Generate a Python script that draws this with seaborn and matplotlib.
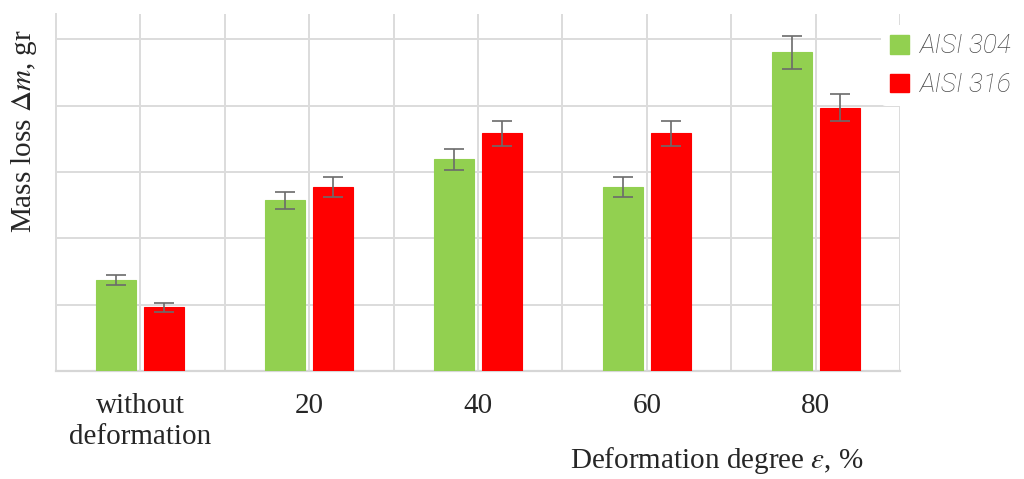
import matplotlib
matplotlib.use("Agg")
import matplotlib.pyplot as plt
import seaborn as sns
import pandas as pd
import numpy as np
from matplotlib.patches import Patch

categories = ["without\ndeformation", "20", "40", "60", "80"]
series_names = ["AISI 304", "AISI 316"]
aisi304 = [1.37, 2.57, 3.19, 2.77, 4.80]
aisi316 = [0.96, 2.77, 3.58, 3.58, 3.97]
err304 = [0.07, 0.13, 0.16, 0.15, 0.25]
err316 = [0.07, 0.15, 0.19, 0.19, 0.20]

colors = {"AISI 304": "#92D050", "AISI 316": "#FF0000"}

df = pd.DataFrame({
    "cat": categories * 2,
    "series": [series_names[0]] * 5 + [series_names[1]] * 5,
    "val": aisi304 + aisi316,
})

sns.set_style("white")
plt.rcParams["font.family"] = ["Liberation Serif", "DejaVu Serif"]
plt.rcParams["mathtext.fontset"] = "stix"

fig = plt.figure(figsize=(10.24, 4.79), dpi=100)
ax = fig.add_axes([56/1024, 1-371/479, (900-56)/1024, (371-14)/479])

sns.barplot(data=df, x="cat", y="val", hue="series", order=categories,
            hue_order=series_names, palette=colors, saturation=1,
            width=0.57, gap=0.17, errorbar=None, ax=ax, zorder=3,
            linewidth=0.8)

errs = {"AISI 304": err304, "AISI 316": err316}
vals = {"AISI 304": aisi304, "AISI 316": aisi316}
for cont, name in zip(ax.containers, series_names):
    xs = [p.get_x() + p.get_width() / 2 for p in cont.patches]
    ax.errorbar(xs, vals[name], yerr=errs[name], fmt="none", ecolor="#6b6b6b",
                elinewidth=1.2, capsize=7, capthick=1.2, zorder=4)
    for p in cont.patches:
        p.set_edgecolor(colors[name])

ax.set_xlim(-0.5, 4.5)
ax.set_ylim(0, 5.38)
ax.set_yticks([1, 2, 3, 4, 5])
ax.set_yticklabels([])
ax.set_xticks(np.arange(-0.5, 5.0, 1.0), minor=True)
ax.grid(True, which="both", axis="x", color="#dcdcdc", linewidth=1.4, zorder=0)
ax.grid(True, which="major", axis="y", color="#dcdcdc", linewidth=1.4, zorder=0)
ax.set_axisbelow(True)
ax.tick_params(axis="both", which="both", length=0)
ax.tick_params(axis="x", labelsize=21, pad=16)
for lbl in ax.get_xticklabels():
    lbl.set_linespacing(1.25)
for s in ["top", "right"]:
    ax.spines[s].set_visible(False)
ax.spines["left"].set_color("#dcdcdc")
ax.spines["left"].set_linewidth(1.4)
ax.spines["bottom"].set_color("#d6d6d6")
ax.spines["bottom"].set_linewidth(1.6)

ax.set_xlabel("")
ax.set_ylabel(r"Mass loss $\Delta m$, gr", fontsize=21)
ax.yaxis.set_label_coords((39 - 56) / 844, (371 - 131) / 357)
fig.text(717/1024, 1-461/479, r"Deformation degree $\varepsilon$, %", fontsize=21,
         ha="center", va="center")

ax.get_legend().remove()
handles = [Patch(facecolor=colors[n], edgecolor=colors[n]) for n in series_names]
leg = fig.legend(handles, series_names, loc="upper left",
                 bbox_to_anchor=(868/1024, 1-12/479), frameon=True,
                 facecolor="white", edgecolor="white", framealpha=1,
                 handlelength=0.72, handleheight=0.72, handletextpad=0.4,
                 labelspacing=0.56, borderpad=0.35,
                 prop={"family": ["Roboto", "DejaVu Sans"], "style": "italic",
                       "weight": "light", "size": 19},
                 labelcolor="#4a4a4a")
leg.get_frame().set_linewidth(0)

fig.savefig("out.png", dpi=100, facecolor="white")
